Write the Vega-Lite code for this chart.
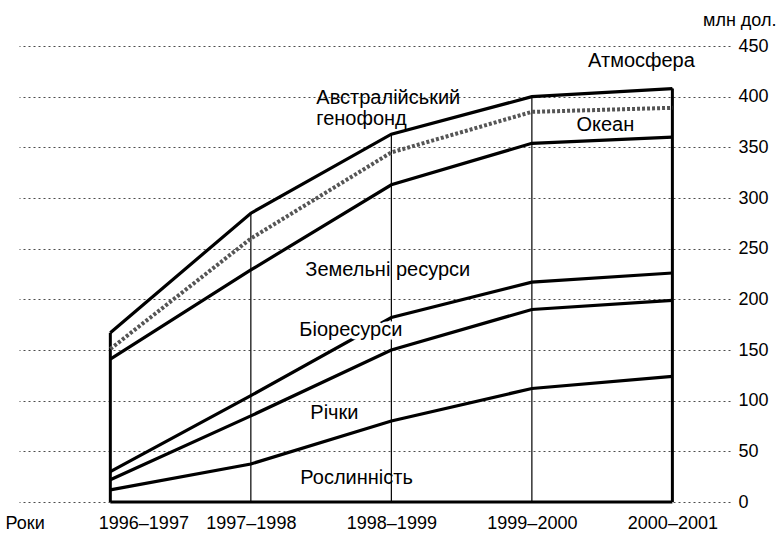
{
  "$schema": "https://vega.github.io/schema/vega-lite/v6.json",
  "autosize": "none",
  "width": 711,
  "height": 456,
  "padding": {"left": 19, "top": 46, "right": 52, "bottom": 34},
  "background": "white",
  "config": {
    "view": {"stroke": null},
    "font": "Liberation Sans",
    "text": {"font": "Liberation Sans"}
  },
  "datasets": {
    "lines": [
      {"year": 1996, "band": "Рослинність", "value": 12},
      {"year": 1997, "band": "Рослинність", "value": 37.5},
      {"year": 1998, "band": "Рослинність", "value": 80},
      {"year": 1999, "band": "Рослинність", "value": 112},
      {"year": 2000, "band": "Рослинність", "value": 124},
      {"year": 1996, "band": "Річки", "value": 22},
      {"year": 1997, "band": "Річки", "value": 85},
      {"year": 1998, "band": "Річки", "value": 150},
      {"year": 1999, "band": "Річки", "value": 190},
      {"year": 2000, "band": "Річки", "value": 199},
      {"year": 1996, "band": "Біоресурси", "value": 30},
      {"year": 1997, "band": "Біоресурси", "value": 105},
      {"year": 1998, "band": "Біоресурси", "value": 182},
      {"year": 1999, "band": "Біоресурси", "value": 217},
      {"year": 2000, "band": "Біоресурси", "value": 226},
      {"year": 1996, "band": "Земельні ресурси", "value": 141},
      {"year": 1997, "band": "Земельні ресурси", "value": 229},
      {"year": 1998, "band": "Земельні ресурси", "value": 313},
      {"year": 1999, "band": "Земельні ресурси", "value": 354},
      {"year": 2000, "band": "Земельні ресурси", "value": 360},
      {"year": 1996, "band": "Океан", "value": 151},
      {"year": 1997, "band": "Океан", "value": 260},
      {"year": 1998, "band": "Океан", "value": 345},
      {"year": 1999, "band": "Океан", "value": 385},
      {"year": 2000, "band": "Океан", "value": 389},
      {"year": 1996, "band": "Атмосфера", "value": 167},
      {"year": 1997, "band": "Атмосфера", "value": 285},
      {"year": 1998, "band": "Атмосфера", "value": 363},
      {"year": 1999, "band": "Атмосфера", "value": 400},
      {"year": 2000, "band": "Атмосфера", "value": 408}
    ],
    "labels": [
      {"label": "Атмосфера", "year": 1999.4, "value": 435},
      {"label": "Австралійський\nгенофонд", "year": 1997.466, "value": 399},
      {"label": "Океан", "year": 1999.317, "value": 372},
      {"label": "Земельні ресурси", "year": 1997.388, "value": 229},
      {"label": "Біоресурси", "year": 1997.345, "value": 170},
      {"label": "Річки", "year": 1997.423, "value": 88},
      {"label": "Рослинність", "year": 1997.352, "value": 24}
    ]
  },
  "layer": [
    {
      "data": {"name": "lines"},
      "transform": [{"filter": "datum.band === 'Атмосфера'"}],
      "mark": {"type": "rule", "color": "black", "strokeWidth": 1.2},
      "encoding": {
        "x": {
          "field": "year", "type": "quantitative",
          "scale": {"domain": [1995.35, 2000.41], "nice": false, "zero": false},
          "axis": {
            "values": [1995.39, 1996.235, 1997, 1998, 1999, 2000],
            "labelExpr": "datum.value < 1996 ? 'Роки' : datum.value < 1997 ? '1996–1997' : datum.value + '–' + (datum.value + 1)",
            "title": null, "grid": false, "domain": false, "ticks": false, "tickSize": 0,
            "labelPadding": 12, "labelFontSize": 18, "labelColor": "black",
            "labelFlush": false, "labelOverlap": false, "labelBaseline": "top",
            "labelFont": "Liberation Sans"
          }
        },
        "y": {
          "field": "value", "type": "quantitative",
          "scale": {"domain": [0, 450], "nice": false},
          "axis": {
            "orient": "right", "values": [0, 50, 100, 150, 200, 250, 300, 350, 400, 450],
            "domain": false, "ticks": false, "tickSize": 0, "labelPadding": 8,
            "labelAlign": "left", "labelBaseline": "middle", "labelFontSize": 18,
            "labelColor": "black", "labelFont": "Liberation Sans",
            "grid": true, "gridColor": "black", "gridDash": [2, 3], "gridWidth": 1, "gridOpacity": 0.7,
            "title": "млн дол.", "titleAngle": 0, "titleAlign": "right", "titleBaseline": "middle",
            "titleX": 46, "titleY": -26, "titleFontSize": 18, "titleFontWeight": "normal",
            "titleFont": "Liberation Sans", "titleColor": "black"
          }
        },
        "y2": {"datum": 0}
      }
    },
    {
      "data": {"name": "lines"},
      "transform": [{"filter": "datum.band === 'Атмосфера' && (datum.year === 1996 || datum.year === 2000)"}],
      "mark": {"type": "rule", "color": "black", "strokeWidth": 3},
      "encoding": {
        "x": {"field": "year", "type": "quantitative"},
        "y": {"field": "value", "type": "quantitative"},
        "y2": {"datum": 0}
      }
    },
    {
      "data": {"name": "lines"},
      "transform": [{"filter": "datum.band === 'Рослинність'"}],
      "mark": {"type": "line", "color": "black", "strokeWidth": 3},
      "encoding": {
        "x": {"field": "year", "type": "quantitative"},
        "y": {"datum": 0}
      }
    },
    {
      "data": {"name": "lines"},
      "transform": [{"filter": "datum.band === 'Океан'"}],
      "mark": {"type": "line", "color": "#555", "strokeWidth": 4, "strokeDash": [3, 2]},
      "encoding": {
        "x": {"field": "year", "type": "quantitative"},
        "y": {"field": "value", "type": "quantitative"},
        "detail": {"field": "band"}
      }
    },
    {
      "data": {"name": "lines"},
      "transform": [{"filter": "datum.band !== 'Океан'"}],
      "mark": {"type": "line", "color": "black", "strokeWidth": 3.2},
      "encoding": {
        "x": {"field": "year", "type": "quantitative"},
        "y": {"field": "value", "type": "quantitative"},
        "detail": {"field": "band"}
      }
    },
    {
      "data": {"name": "labels"},
      "transform": [{"filter": "datum.label === 'Біоресурси'"}],
      "mark": {"type": "text", "align": "left", "baseline": "middle", "fontSize": 20, "lineBreak": "\n", "lineHeight": 21, "color": "white", "stroke": "white", "strokeWidth": 7, "font": "Liberation Sans"},
      "encoding": {
        "x": {"field": "year", "type": "quantitative"},
        "y": {"field": "value", "type": "quantitative"},
        "text": {"field": "label"}
      }
    },
    {
      "data": {"name": "labels"},
      "mark": {"type": "text", "align": "left", "baseline": "middle", "fontSize": 20, "lineBreak": "\n", "lineHeight": 21, "color": "black", "font": "Liberation Sans"},
      "encoding": {
        "x": {"field": "year", "type": "quantitative"},
        "y": {"field": "value", "type": "quantitative"},
        "text": {"field": "label"}
      }
    }
  ]
}
